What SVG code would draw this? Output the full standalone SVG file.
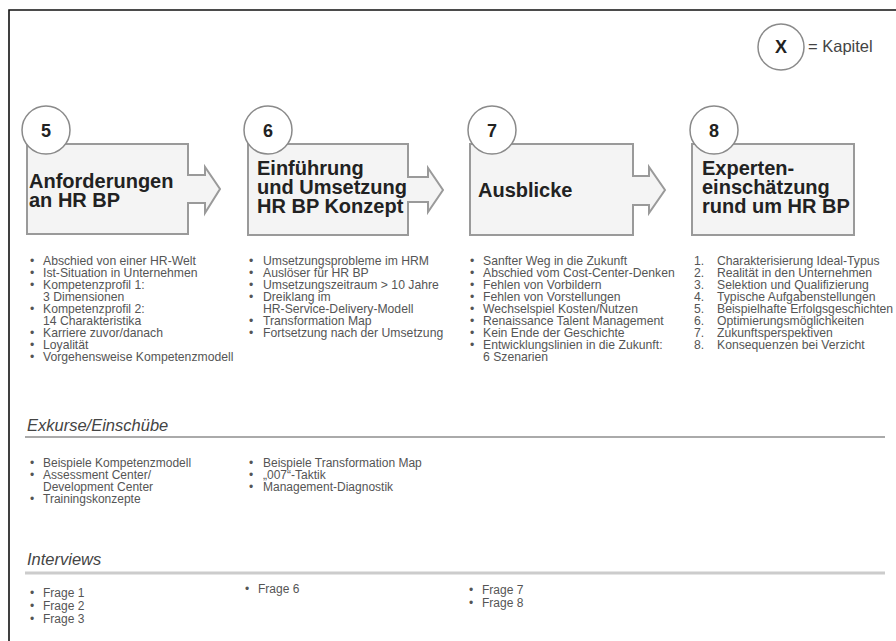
<svg xmlns="http://www.w3.org/2000/svg" width="896" height="641" viewBox="0 0 896 641">
<style>
.frame{fill:none;stroke:#111;stroke-width:1.6}
.box{fill:#f4f4f4;stroke:#9a9a9a;stroke-width:2}
.num{fill:#fff;stroke:#8a8a8a;stroke-width:1.5}
.numt{font-family:"Liberation Sans",Arial,sans-serif;font-weight:bold;font-size:18px;fill:#222;text-anchor:middle}
.title{font-family:"Liberation Sans",Arial,sans-serif;font-weight:bold;font-size:20px;fill:#222}
.li{font-family:"Liberation Sans",Arial,sans-serif;font-size:12.2px;fill:#555}
.lis{font-family:"Liberation Sans",Arial,sans-serif;font-size:12px;fill:#555}
.head{font-family:"Liberation Sans",Arial,sans-serif;font-style:italic;font-size:16.5px;fill:#444}
.rule{stroke:#aaa;stroke-width:2}
.rule2{stroke:#ccc;stroke-width:3}
.leg{font-family:"Liberation Sans",Arial,sans-serif;font-size:16.5px;fill:#444}
</style>
<path class="frame" d="M9,641 V10 H896"/>
<g id="legend">
<circle class="num" cx="781" cy="47" r="23"/>
<text class="numt" x="781" y="53">X</text>
<text class="leg" x="808" y="52">= Kapitel</text>
</g>
<g id="connectors">
</g>
<g id="node5">
<path class="box" d="M27,144 H188 V175 H205 V167 L220,189 L205,213 V203 H188 V234 H27 Z"/>
<circle class="num" cx="46" cy="130" r="24"/>
<text class="numt" x="46" y="137">5</text>
<text class="title" x="29" y="188">Anforderungen</text>
<text class="title" x="29" y="207">an HR BP</text>
</g>
<g id="node6">
<path class="box" d="M248,144 H408 V177 H428 V168 L443,190 L428,212 V202 H408 V235 H248 Z"/>
<circle class="num" cx="268" cy="130" r="24"/>
<text class="numt" x="268" y="137">6</text>
<text class="title" x="257" y="175">Einführung</text>
<text class="title" x="257" y="194">und Umsetzung</text>
<text class="title" x="257" y="213">HR BP Konzept</text>
</g>
<g id="node7">
<path class="box" d="M470,144 H633 V176 H649 V167 L665,190 L649,213 V205 H633 V235 H470 Z"/>
<circle class="num" cx="492" cy="130" r="24"/>
<text class="numt" x="492" y="137">7</text>
<text class="title" x="478" y="197">Ausblicke</text>
</g>
<g id="node8">
<rect class="box" x="692" y="144" width="162" height="91"/>
<circle class="num" cx="714" cy="130" r="24"/>
<text class="numt" x="714" y="137">8</text>
<text class="title" x="702" y="175">Experten-</text>
<text class="title" x="702" y="194">einschätzung</text>
<text class="title" x="702" y="213">rund um HR BP</text>
</g>
<g id="list5" class="li">
<text x="30" y="265">•</text><text x="43" y="265">Abschied von einer HR-Welt</text>
<text x="30" y="277">•</text><text x="43" y="277">Ist-Situation in Unternehmen</text>
<text x="30" y="289">•</text><text x="43" y="289">Kompetenzprofil 1:</text>
<text x="43" y="301">3 Dimensionen</text>
<text x="30" y="313">•</text><text x="43" y="313">Kompetenzprofil 2:</text>
<text x="43" y="325">14 Charakteristika</text>
<text x="30" y="337">•</text><text x="43" y="337">Karriere zuvor/danach</text>
<text x="30" y="349">•</text><text x="43" y="349">Loyalität</text>
<text x="30" y="361">•</text><text x="43" y="361">Vorgehensweise Kompetenzmodell</text>
</g>
<g id="list6" class="li">
<text x="249" y="265">•</text><text x="263" y="265">Umsetzungsprobleme im HRM</text>
<text x="249" y="277">•</text><text x="263" y="277">Auslöser für HR BP</text>
<text x="249" y="289">•</text><text x="263" y="289">Umsetzungszeitraum &gt; 10 Jahre</text>
<text x="249" y="301">•</text><text x="263" y="301">Dreiklang im</text>
<text x="263" y="313">HR-Service-Delivery-Modell</text>
<text x="249" y="325">•</text><text x="263" y="325">Transformation Map</text>
<text x="249" y="337">•</text><text x="263" y="337">Fortsetzung nach der Umsetzung</text>
</g>
<g id="list7" class="li">
<text x="470" y="265">•</text><text x="483" y="265">Sanfter Weg in die Zukunft</text>
<text x="470" y="277">•</text><text x="483" y="277">Abschied vom Cost-Center-Denken</text>
<text x="470" y="289">•</text><text x="483" y="289">Fehlen von Vorbildern</text>
<text x="470" y="301">•</text><text x="483" y="301">Fehlen von Vorstellungen</text>
<text x="470" y="313">•</text><text x="483" y="313">Wechselspiel Kosten/Nutzen</text>
<text x="470" y="325">•</text><text x="483" y="325">Renaissance Talent Management</text>
<text x="470" y="337">•</text><text x="483" y="337">Kein Ende der Geschichte</text>
<text x="470" y="349">•</text><text x="483" y="349">Entwicklungslinien in die Zukunft:</text>
<text x="483" y="361">6 Szenarien</text>
</g>
<g id="list8" class="li">
<text x="694" y="265">1.</text><text x="717" y="265">Charakterisierung Ideal-Typus</text>
<text x="694" y="277">2.</text><text x="717" y="277">Realität in den Unternehmen</text>
<text x="694" y="289">3.</text><text x="717" y="289">Selektion und Qualifizierung</text>
<text x="694" y="301">4.</text><text x="717" y="301">Typische Aufgabenstellungen</text>
<text x="694" y="313">5.</text><text x="717" y="313">Beispielhafte Erfolgsgeschichten</text>
<text x="694" y="325">6.</text><text x="717" y="325">Optimierungsmöglichkeiten</text>
<text x="694" y="337">7.</text><text x="717" y="337">Zukunftsperspektiven</text>
<text x="694" y="349">8.</text><text x="717" y="349">Konsequenzen bei Verzicht</text>
</g>
<g id="exkurse">
<text class="head" x="27" y="431">Exkurse/Einschübe</text>
<line class="rule" x1="25" y1="437" x2="885" y2="437"/>
<g class="lis">
<text x="30" y="467">•</text><text x="43" y="467">Beispiele Kompetenzmodell</text>
<text x="30" y="479">•</text><text x="43" y="479">Assessment Center/</text>
<text x="43" y="491">Development Center</text>
<text x="30" y="503">•</text><text x="43" y="503">Trainingskonzepte</text>
<text x="249" y="467">•</text><text x="263" y="467">Beispiele Transformation Map</text>
<text x="249" y="479">•</text><text x="263" y="479">„007“-Taktik</text>
<text x="249" y="491">•</text><text x="263" y="491">Management-Diagnostik</text>
</g>
</g>
<g id="interviews">
<text class="head" x="27" y="565">Interviews</text>
<line class="rule2" x1="25" y1="573" x2="885" y2="573"/>
<g class="lis">
<text x="30" y="597">•</text><text x="43" y="597">Frage 1</text>
<text x="30" y="610">•</text><text x="43" y="610">Frage 2</text>
<text x="30" y="623">•</text><text x="43" y="623">Frage 3</text>
<text x="245" y="593">•</text><text x="258" y="593">Frage 6</text>
<text x="469" y="594">•</text><text x="482" y="594">Frage 7</text>
<text x="469" y="607">•</text><text x="482" y="607">Frage 8</text>
</g>
</g>
</svg>
